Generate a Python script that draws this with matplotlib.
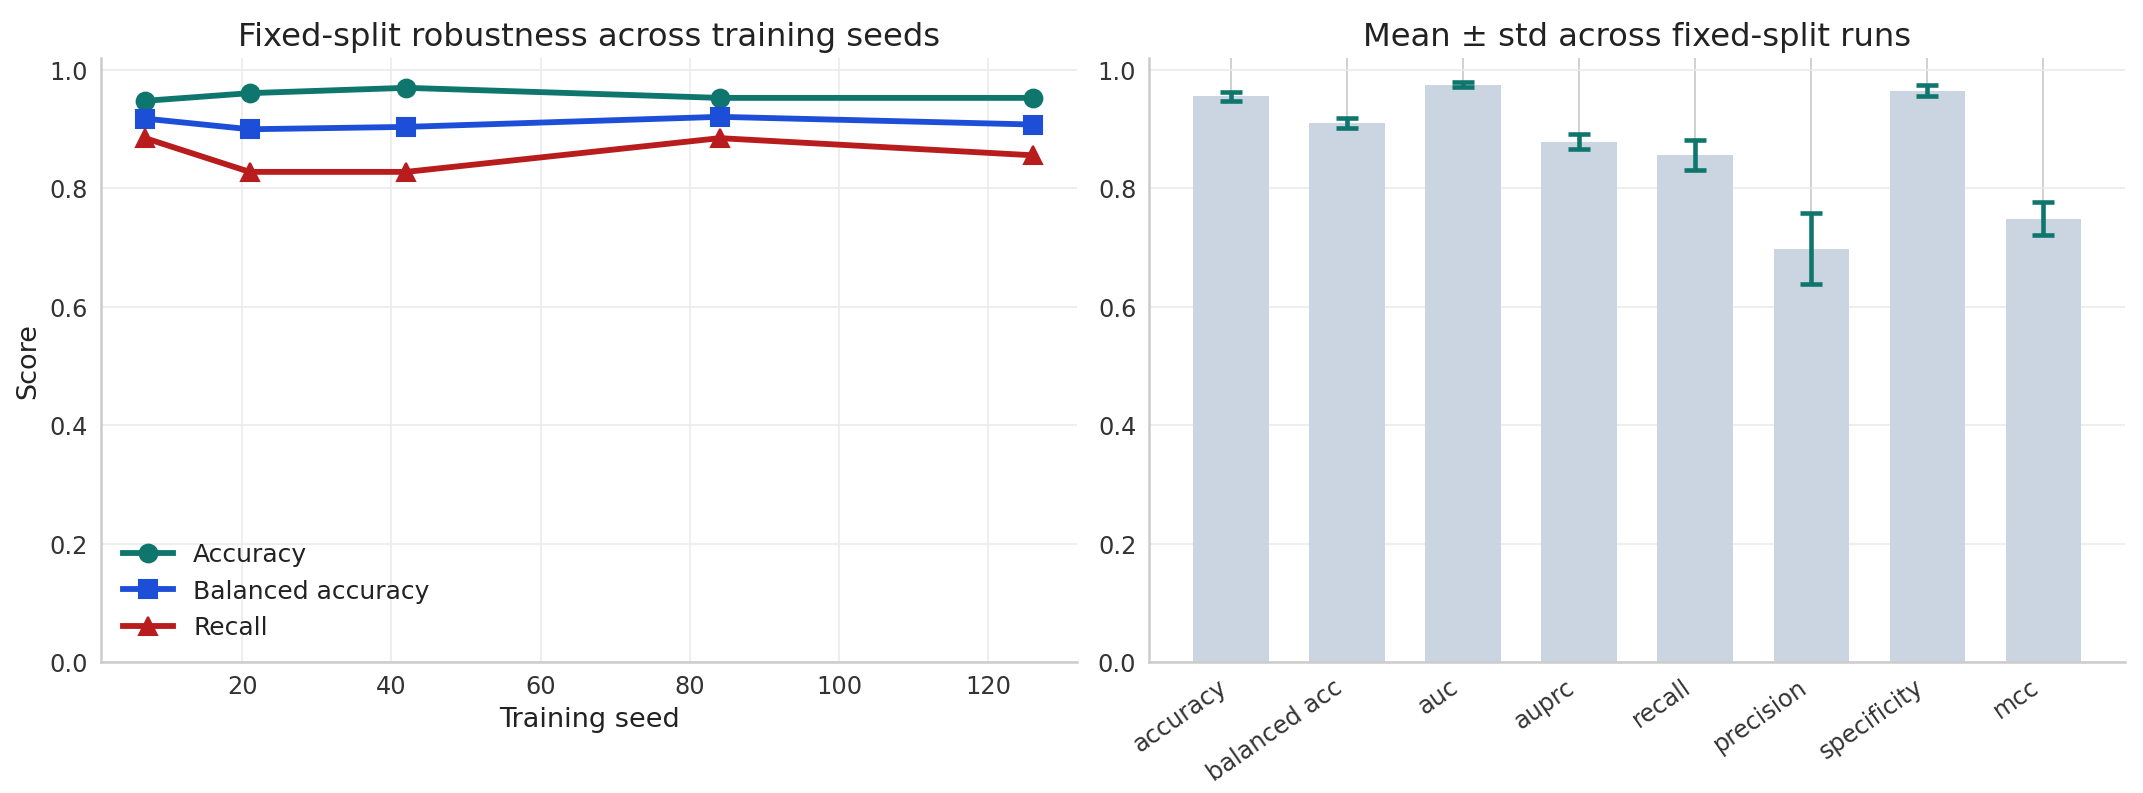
import numpy as np
import matplotlib.pyplot as plt

seeds = [7, 21, 42, 84, 126]
accuracy = [0.948, 0.961, 0.970, 0.953, 0.953]
balanced_acc = [0.918, 0.900, 0.904, 0.921, 0.908]
recall = [0.885, 0.828, 0.828, 0.885, 0.856]

metrics = ['accuracy', 'balanced acc', 'auc', 'auprc', 'recall', 'precision', 'specificity', 'mcc']
means = [0.956, 0.911, 0.975, 0.879, 0.857, 0.698, 0.965, 0.749]
stds = [0.0075, 0.0085, 0.004, 0.0125, 0.025, 0.060, 0.0095, 0.028]

plt.rcParams['font.family'] = 'DejaVu Sans'
plt.rcParams['text.color'] = '#222222'
plt.rcParams['axes.labelcolor'] = '#222222'
plt.rcParams['xtick.color'] = '#333333'
plt.rcParams['ytick.color'] = '#333333'

fig, (ax1, ax2) = plt.subplots(1, 2, figsize=(14.29, 5.29), dpi=150)
fig.subplots_adjust(left=0.047, right=0.9916, top=0.926, bottom=0.165, wspace=0.073)

teal = '#0f766e'

ax1.plot(seeds, accuracy, color=teal, marker='o', lw=2.8, ms=8.5, label='Accuracy')
ax1.plot(seeds, balanced_acc, color='#1d4ed8', marker='s', lw=2.8, ms=8.5, label='Balanced accuracy')
ax1.plot(seeds, recall, color='#b91c1c', marker='^', lw=2.8, ms=9, label='Recall')
ax1.set_ylim(0, 1.02)
ax1.set_title('Fixed-split robustness across training seeds', fontsize=15.5)
ax1.set_xlabel('Training seed', fontsize=13)
ax1.set_ylabel('Score', fontsize=13)
ax1.grid(True, color='#ebebeb', lw=0.8)
ax1.legend(loc='lower left', frameon=False, fontsize=12)

x = np.arange(len(metrics))
ax2.bar(x, means, width=0.65, color='#cbd5e1', zorder=2)
ax2.errorbar(x, means, yerr=stds, fmt='none', ecolor=teal, elinewidth=2.2, capsize=5.5, capthick=2.2, zorder=3)
ax2.set_xticks(x)
ax2.set_xticklabels(metrics, rotation=35, ha='right')
ax2.set_ylim(0, 1.02)
ax2.set_title('Mean ± std across fixed-split runs', fontsize=15.5)
ax2.yaxis.grid(True, color='#ebebeb', lw=0.8, zorder=0)
ax2.xaxis.grid(True, color='#c8c8c8', lw=0.8, zorder=0)
ax2.set_axisbelow(True)

for ax in (ax1, ax2):
    ax.spines['top'].set_visible(False)
    ax.spines['right'].set_visible(False)
    ax.spines['left'].set_color('#cccccc')
    ax.spines['bottom'].set_color('#cccccc')
    ax.spines['left'].set_linewidth(1.2)
    ax.spines['bottom'].set_linewidth(1.2)
    ax.tick_params(length=0, labelsize=11.5, pad=6)

fig.savefig('out.png')
